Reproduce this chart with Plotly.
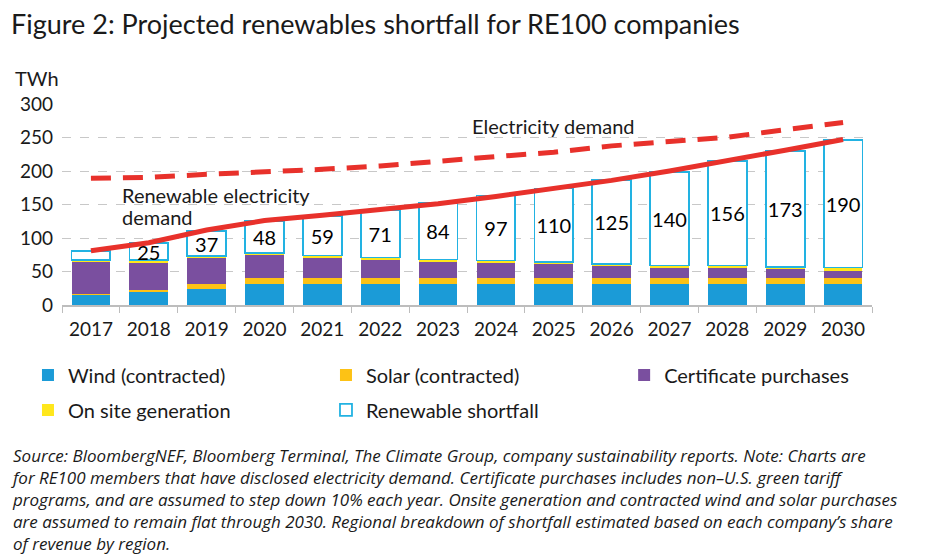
import plotly.graph_objects as go

years = ['2017', '2018', '2019', '2020', '2021', '2022', '2023',
         '2024', '2025', '2026', '2027', '2028', '2029', '2030']

wind = [15, 20, 24.5, 31.5, 31.5, 31.5, 31.5, 31.5, 31.5, 31.5, 31.5, 31.5, 31.5, 31.5]
solar = [2, 2, 7, 9.5, 9.5, 9.5, 9.5, 9.5, 9.5, 9.5, 9.5, 9.5, 9.5, 9.5]
certificates = [48, 41, 38.5, 33.5, 30.5, 26.5, 24.5, 22, 19.5, 17, 14.5, 14.5, 12, 9.5]
onsite = [2, 4, 3, 3, 2.5, 3.5, 2.5, 3.5, 3.5, 3, 3.5, 3.5, 3.5, 5.5]
shortfall = [14, 25, 37, 48, 59, 71, 84, 97, 110, 125, 140, 156, 173, 190]
shortfall_labels = ['', '25', '37', '48', '59', '71', '84', '97', '110', '125', '140', '156', '173', '190']

renewable_demand = [81, 93, 112, 126, 134, 143, 151, 162, 174, 186, 200, 215, 231, 247]
electricity_demand = [189, 190.5, 195, 198.5, 202.5, 207.5, 215, 221.5, 228, 237.5, 244, 250.5, 261.5, 272.5]

font_family = 'Lato'
text_col = '#1a1a1a'

fig = go.Figure()

fig.add_trace(go.Bar(x=years, y=wind, name='Wind (contracted)',
                     marker=dict(color='#1b9bd7', line=dict(width=0))))
fig.add_trace(go.Bar(x=years, y=solar, name='Solar (contracted)',
                     marker=dict(color='#fdc215', line=dict(width=0))))
fig.add_trace(go.Bar(x=years, y=certificates, name='Certificate purchases', legend='legend3',
                     marker=dict(color='#7a4f9f', line=dict(width=0))))
fig.add_trace(go.Bar(x=years, y=onsite, name='On site generation', legend='legend2',
                     marker=dict(color='#ffe71c', line=dict(width=0))))
fig.add_trace(go.Bar(x=years, y=shortfall, name='Renewable shortfall', legend='legend2',
                     marker=dict(color='white', line=dict(color='#22b2e2', width=1.8)),
                     text=shortfall_labels, textposition='inside', textangle=0,
                     insidetextanchor='middle', constraintext='none',
                     textfont=dict(size=20, color='black', family=font_family)))

fig.add_trace(go.Scatter(x=years, y=electricity_demand, mode='lines', showlegend=False,
                         line=dict(color='#e8312b', width=5, dash='20px,12px')))
fig.add_trace(go.Scatter(x=years, y=renewable_demand, mode='lines', showlegend=False,
                         line=dict(color='#e8312b', width=5)))

legend_style = dict(orientation='h', xanchor='left', yanchor='middle',
                    traceorder='normal', entrywidth=253, entrywidthmode='pixels',
                    font=dict(size=20, color=text_col), itemclick=False,
                    bgcolor='rgba(0,0,0,0)')

# page is drawn 8px in from the top-left, so margins are shifted by 8
fig.update_layout(
    width=949, height=556,
    barmode='stack', bargap=0.33,
    plot_bgcolor='white', paper_bgcolor='white',
    margin=dict(l=54, r=85, t=96, b=259),
    font=dict(family=font_family, size=19, color=text_col),
    showlegend=True,
    legend=dict(legend_style, x=-0.042, y=-0.348),
    legend3=dict(legend_style, x=0.694, y=-0.348),
    legend2=dict(legend_style, x=-0.042, y=-0.522),
    xaxis=dict(type='category', showgrid=False, showline=True, linecolor='#bdbdbd',
               linewidth=1.5, ticks='outside', tickson='boundaries', ticklen=6,
               tickcolor='#bdbdbd', tickfont=dict(size=19, color=text_col),
               ticklabelstandoff=6),
    yaxis=dict(range=[0, 300], dtick=50, showgrid=True, gridcolor='#c8c8c8',
               griddash='dash', gridwidth=1, zeroline=False, showline=False,
               tickfont=dict(size=19, color=text_col), ticklabelstandoff=8),
    annotations=[
        dict(text='Figure 2: Projected renewables shortfall for RE100 companies',
             xref='paper', yref='paper', x=-0.066, y=1.4, xanchor='left', yanchor='middle',
             showarrow=False, font=dict(size=27, color=text_col)),
        dict(text='TWh', xref='paper', yref='paper', x=-0.06, y=1.129,
             xanchor='left', yanchor='middle', showarrow=False, font=dict(size=20)),
        dict(text='Electricity demand', xref='x', yref='y', x=8, y=267,
             xanchor='center', yanchor='middle', showarrow=False, font=dict(size=20)),
        dict(text='Renewable electricity', xref='x', yref='y', x=0.5, y=164,
             xanchor='left', yanchor='middle', showarrow=False, font=dict(size=20)),
        dict(text='demand', xref='x', yref='y', x=0.5, y=131.5,
             xanchor='left', yanchor='middle', showarrow=False, font=dict(size=20)),
        dict(text='<i>Source: BloombergNEF, Bloomberg Terminal, The Climate Group, company sustainability reports. Note: Charts are<br>'
                  'for RE100 members that have disclosed electricity demand. Certificate purchases includes non\u2013U.S. green tariff<br>'
                  'programs, and are assumed to step down 10% each year. Onsite generation and contracted wind and solar purchases<br>'
                  'are assumed to remain flat through 2030. Regional breakdown of shortfall estimated based on each company\u2019s share<br>'
                  'of revenue by region.</i>',
             xref='paper', yref='paper', x=-0.066, y=-0.68, xanchor='left', yanchor='top',
             align='left', showarrow=False, font=dict(size=17, color=text_col, family='Open Sans')),
    ],
)

fig.write_html('out.html')
